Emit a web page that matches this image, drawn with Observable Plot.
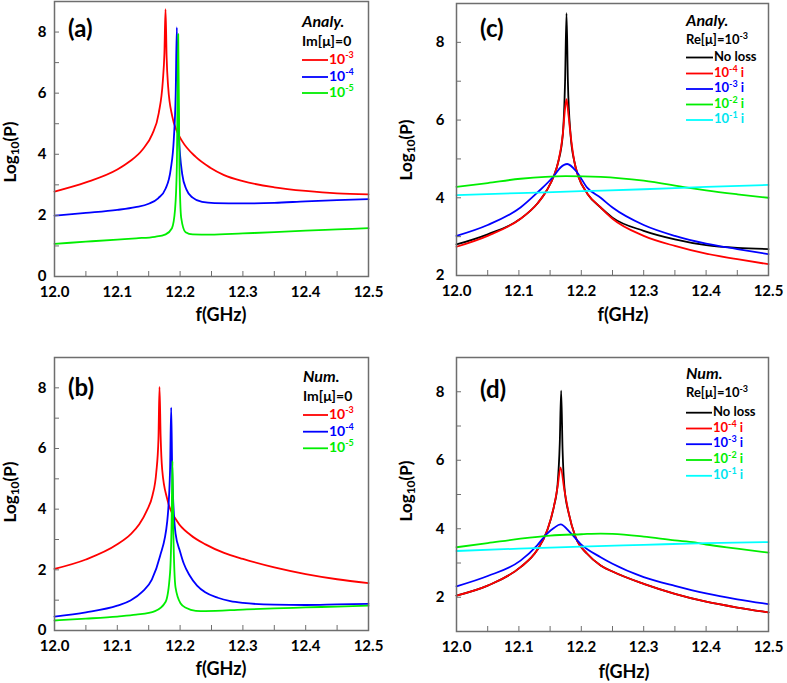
<!DOCTYPE html>
<html><head><meta charset="utf-8">
<script src="https://cdn.jsdelivr.net/npm/d3@7"></script>
<script src="https://cdn.jsdelivr.net/npm/@observablehq/plot@0.6"></script>
<style>
body{margin:0;background:#fff;}
#wrap{position:relative;width:787px;height:683px;overflow:hidden;background:#fff;}
#wrap svg{position:absolute;}
</style></head><body><div id="wrap"></div>
<script>
// ---- ticks ----
const xTicks = [12.0, 12.1, 12.2, 12.3, 12.4, 12.5];
const xMinor = [12.05, 12.15, 12.25, 12.35, 12.45];

// ---- panel (a): Analytical, Im[mu]=0 ----
const aRed = [[12.00,2.78],[12.05,3.08],[12.10,3.50],[12.12,3.77],[12.14,4.15],[12.1555,4.65],[12.166,5.35],[12.1725,6.4],[12.175,7.3],[12.1768,8.75],[12.1785,7.2],[12.181,6.2],[12.1874,5.25],[12.195,4.75],[12.203,4.44],[12.2245,3.92],[12.248,3.56],[12.27,3.32],[12.30,3.12],[12.35,2.92],[12.40,2.80],[12.45,2.72],[12.50,2.69]];
const aBlue = [[12.00,1.99],[12.05,2.08],[12.10,2.18],[12.129,2.27],[12.15,2.38],[12.165,2.56],[12.177,2.88],[12.185,3.5],[12.19,4.5],[12.193,6.0],[12.1948,8.15],[12.1965,6.0],[12.198,4.66],[12.2033,3.36],[12.21,2.85],[12.22,2.58],[12.235,2.44],[12.255,2.40],[12.30,2.39],[12.35,2.41],[12.40,2.46],[12.45,2.50],[12.50,2.53]];
const aGreen = [[12.00,1.07],[12.05,1.14],[12.10,1.21],[12.13,1.25],[12.16,1.30],[12.177,1.38],[12.187,1.58],[12.192,2.2],[12.1948,3.6],[12.197,7.93],[12.199,3.5],[12.2017,1.93],[12.2087,1.45],[12.22,1.38],[12.248,1.37],[12.30,1.41],[12.35,1.45],[12.40,1.50],[12.45,1.54],[12.50,1.58]];

// ---- panel (b): Numerical, Im[mu]=0 ----
const bRed = [[12.00,2.03],[12.05,2.34],[12.10,2.84],[12.121,3.17],[12.135,3.5],[12.147,3.95],[12.156,4.45],[12.162,5.2],[12.1655,6.3],[12.1672,8.03],[12.169,6.4],[12.1715,5.3],[12.1795,4.33],[12.1953,3.60],[12.2166,3.15],[12.2404,2.84],[12.27,2.56],[12.30,2.36],[12.35,2.08],[12.40,1.86],[12.45,1.69],[12.50,1.56]];
const bBlue = [[12.00,0.46],[12.05,0.60],[12.10,0.82],[12.121,0.99],[12.14,1.28],[12.155,1.68],[12.168,2.45],[12.1795,3.6],[12.184,5.3],[12.1858,7.35],[12.1875,5.2],[12.1927,3.2],[12.20,2.6],[12.206,2.2],[12.215,1.82],[12.227,1.48],[12.24,1.26],[12.26,1.08],[12.28,0.97],[12.30,0.91],[12.35,0.85],[12.40,0.84],[12.45,0.86],[12.50,0.88]];
const bGreen = [[12.00,0.33],[12.05,0.39],[12.10,0.46],[12.13,0.52],[12.16,0.64],[12.177,0.95],[12.184,1.9],[12.1865,3.6],[12.1879,5.59],[12.1892,3.3],[12.1927,1.42],[12.2006,0.9],[12.21,0.74],[12.225,0.65],[12.24,0.64],[12.30,0.69],[12.35,0.73],[12.40,0.76],[12.45,0.79],[12.50,0.82]];

// ---- panel (c): Analytical, Re[mu]=1e-3 ----
const cBlack = [[12.00,2.80],[12.05,3.06],[12.1026,3.46],[12.13,3.86],[12.145,4.2],[12.156,4.56],[12.163,4.92],[12.1704,5.64],[12.174,7.0],[12.1763,8.75],[12.1785,7.0],[12.1827,5.64],[12.189,4.92],[12.195,4.56],[12.21,4.1],[12.231,3.75],[12.25,3.49],[12.30,3.15],[12.35,2.93],[12.40,2.78],[12.45,2.71],[12.50,2.68]];
const cRed = [[12.00,2.74],[12.05,3.02],[12.1026,3.46],[12.13,3.86],[12.145,4.2],[12.156,4.56],[12.163,4.92],[12.1704,5.64],[12.174,6.3],[12.1763,6.54],[12.179,6.2],[12.1827,5.64],[12.189,4.92],[12.195,4.56],[12.21,4.1],[12.231,3.75],[12.25,3.46],[12.30,3.02],[12.35,2.76],[12.40,2.56],[12.45,2.42],[12.50,2.29]];
const cBlue = [[12.00,3.02],[12.05,3.30],[12.1026,3.75],[12.1293,4.13],[12.156,4.56],[12.1667,4.78],[12.1774,4.87],[12.1934,4.65],[12.2094,4.26],[12.231,4.00],[12.25,3.75],[12.30,3.30],[12.35,3.02],[12.40,2.82],[12.45,2.68],[12.50,2.55]];
const cGreen = [[12.00,4.28],[12.05,4.38],[12.1026,4.49],[12.175,4.56],[12.231,4.54],[12.30,4.44],[12.37,4.26],[12.40,4.19],[12.45,4.09],[12.50,4.00]];
const cCyan = [[12.00,4.07],[12.10,4.12],[12.20,4.17],[12.30,4.22],[12.40,4.28],[12.50,4.33]];

// ---- panel (d): Numerical, Re[mu]=1e-3 ----
const dBlack = [[12.00,2.05],[12.05,2.34],[12.1026,2.88],[12.129,3.37],[12.1453,3.95],[12.156,4.64],[12.162,5.3],[12.1655,6.5],[12.1677,8.03],[12.17,6.3],[12.173,5.2],[12.18,4.44],[12.1907,3.76],[12.2094,3.27],[12.231,2.93],[12.25,2.75],[12.30,2.39],[12.35,2.10],[12.40,1.87],[12.45,1.70],[12.50,1.56]];
const dRed = [[12.00,2.05],[12.05,2.34],[12.1026,2.88],[12.129,3.37],[12.1453,3.95],[12.156,4.64],[12.162,5.22],[12.1667,5.79],[12.173,5.12],[12.18,4.44],[12.1907,3.76],[12.2094,3.27],[12.231,2.93],[12.25,2.75],[12.30,2.39],[12.35,2.10],[12.40,1.87],[12.45,1.70],[12.50,1.56]];
const dBlue = [[12.00,2.32],[12.05,2.62],[12.1026,3.07],[12.129,3.51],[12.1453,3.86],[12.156,4.02],[12.1667,4.13],[12.1827,3.88],[12.1987,3.56],[12.231,3.17],[12.25,2.98],[12.30,2.59],[12.35,2.33],[12.40,2.11],[12.45,1.94],[12.50,1.80]];
const dGreen = [[12.00,3.46],[12.05,3.58],[12.1026,3.71],[12.15,3.80],[12.20,3.84],[12.231,3.86],[12.25,3.85],[12.30,3.77],[12.35,3.66],[12.382,3.60],[12.40,3.54],[12.45,3.42],[12.50,3.30]];
const dCyan = [[12.00,3.35],[12.10,3.42],[12.20,3.48],[12.30,3.53],[12.40,3.58],[12.50,3.61]];

// legend labels
const legImTitle = "Im[μ]=0";
const legImExp = ["-3", "-4", "-5"];
const legReExp = [null, "-4", "-3", "-2", "-1"];

const FONT = "Lato, 'Open Sans', sans-serif";
const GRAY = "#6e6e6e";

function panel(cfg) {
  const marks = [];
  for (const s of cfg.series) {
    marks.push(Plot.line(s.data, {x: d => d[0], y: d => d[1], stroke: s.color, strokeWidth: 1.8, curve: "monotone-x"}));
  }
  marks.push(
    Plot.axisX({ticks: xMinor, tickSize: -5, tickFormat: () => "", stroke: GRAY, label: null}),
    Plot.axisX({ticks: xTicks, tickSize: -5, tickPadding: 15, tickFormat: d => d.toFixed(1), stroke: GRAY, label: null, fontSize: 15, fontWeight: "bold"}),
    Plot.axisY({ticks: cfg.yMinor, tickSize: -5, tickFormat: () => "", stroke: GRAY, label: null}),
    Plot.axisY({ticks: cfg.yMajor, tickSize: -5, tickPadding: cfg.yPad, tickFormat: d => String(d), stroke: GRAY, label: null, fontSize: 15, fontWeight: "bold"}),
    Plot.frame({stroke: GRAY, strokeWidth: 1.5})
  );
  const svg = Plot.plot({
    width: cfg.width, height: cfg.height,
    marginTop: cfg.m[0], marginRight: cfg.m[1], marginBottom: cfg.m[2], marginLeft: cfg.m[3],
    x: {domain: [12.0, 12.5]},
    y: {domain: cfg.yDomain},
    style: {fontFamily: FONT, fontWeight: "bold", color: "#000", background: "transparent", overflow: "visible"},
    marks
  });
  svg.style.left = cfg.left + "px";
  svg.style.top = cfg.top + "px";
  const g = d3.select(svg).append("g").attr("font-family", FONT).attr("font-weight", "bold")
    .attr("text-anchor", "start");

  // panel letter
  g.append("text").attr("x", cfg.tag[0]).attr("y", cfg.tag[1]).attr("font-size", 24)
    .attr("dominant-baseline", "middle").text(cfg.tag[2]);

  // y label Log10(P)
  const yl = g.append("text").attr("transform", `translate(${cfg.ylab[0]},${cfg.ylab[1]}) rotate(-90)`)
    .attr("text-anchor", "middle").attr("dominant-baseline", "middle").attr("font-size", 17);
  yl.append("tspan").text("Log");
  yl.append("tspan").attr("font-size", 12).attr("dy", 4).text("10");
  yl.append("tspan").attr("dy", -4).text("(P)");

  // x label
  g.append("text").attr("x", cfg.xlab[0]).attr("y", cfg.xlab[1]).attr("text-anchor", "middle")
    .attr("dominant-baseline", "middle").attr("font-size", 18).text("f(GHz)");

  // legend
  const L = cfg.legend;
  const fs = L.fs;
  g.append("text").attr("x", L.x).attr("y", L.titleY).attr("font-size", 16).attr("font-style", "italic")
    .attr("dominant-baseline", "middle").text(L.title);
  const sub = g.append("text").attr("x", L.x).attr("y", L.subY).attr("font-size", fs)
    .attr("dominant-baseline", "middle");
  if (L.sub2) {
    sub.append("tspan").text(L.sub);
    sub.append("tspan").attr("font-size", 9).attr("dy", -4).text(L.sub2);
  } else sub.text(L.sub);
  L.rows.forEach((r, i) => {
    const y = L.rowY[i];
    g.append("line").attr("x1", L.x).attr("x2", L.x + L.len).attr("y1", y).attr("y2", y)
      .attr("stroke", r.color).attr("stroke-width", 1.8);
    const t = g.append("text").attr("x", L.x + L.len + 1).attr("y", y).attr("font-size", fs)
      .attr("dominant-baseline", "middle").attr("fill", r.color === "#00ffff" ? "#00e5f0" : r.color);
    if (r.exp == null) { t.attr("fill", "#000").text("No loss"); }
    else {
      t.append("tspan").text("10");
      t.append("tspan").attr("font-size", 9).attr("dy", -4).text(r.exp);
      t.append("tspan").attr("dy", 4).text(r.suffix || "");
    }
  });
  document.getElementById("wrap").appendChild(svg);
}

const RED = "#ff0000", BLUE = "#0000ff", GREEN = "#00ee00", CYAN = "#00ffff", BLACK = "#000000";

panel({
  left: 0, top: 0, width: 393, height: 340, m: [1, 25, 64, 54],
  yDomain: [0, 9], yMajor: [0, 2, 4, 6, 8], yMinor: [1, 3, 5, 7], yPad: 13,
  series: [{data: aRed, color: RED}, {data: aBlue, color: BLUE}, {data: aGreen, color: GREEN}],
  tag: [68, 31, "(a)"], ylab: [12, 152], xlab: [221, 316],
  legend: {x: 302, fs: 14, title: "Analy.", titleY: 23, sub: legImTitle, subY: 42, len: 26,
    rowY: [60, 77, 93],
    rows: [{color: RED, exp: legImExp[0]}, {color: BLUE, exp: legImExp[1]}, {color: GREEN, exp: legImExp[2]}]}
});

panel({
  left: 393, top: 0, width: 394, height: 340, m: [3, 19, 65, 63],
  yDomain: [2, 9], yMajor: [2, 4, 6, 8], yMinor: [3, 5, 7], yPad: 17,
  series: [{data: cBlack, color: BLACK}, {data: cRed, color: RED}, {data: cBlue, color: BLUE}, {data: cGreen, color: GREEN}, {data: cCyan, color: CYAN}],
  tag: [87, 31, "(c)"], ylab: [15, 150], xlab: [230, 316],
  legend: {x: 293, fs: 13, title: "Analy.", titleY: 22, sub: "Re[μ]=10", sub2: "-3", subY: 41, len: 27,
    rowY: [57.5, 73.5, 89, 104.5, 120],
    rows: [{color: BLACK, exp: legReExp[0]}, {color: RED, exp: legReExp[1], suffix: " i"}, {color: BLUE, exp: legReExp[2], suffix: " i"}, {color: GREEN, exp: legReExp[3], suffix: " i"}, {color: CYAN, exp: legReExp[4], suffix: " i"}]}
});

panel({
  left: 0, top: 340, width: 393, height: 343, m: [17, 25, 53, 54],
  yDomain: [0, 9], yMajor: [0, 2, 4, 6, 8], yMinor: [1, 3, 5, 7], yPad: 13,
  series: [{data: bRed, color: RED}, {data: bBlue, color: BLUE}, {data: bGreen, color: GREEN}],
  tag: [68, 50, "(b)"], ylab: [12, 152], xlab: [221, 330],
  legend: {x: 303, fs: 14, title: "Num.", titleY: 38, sub: legImTitle, subY: 57, len: 25,
    rowY: [75, 91.7, 108.3],
    rows: [{color: RED, exp: legImExp[0]}, {color: BLUE, exp: legImExp[1]}, {color: GREEN, exp: legImExp[2]}]}
});

panel({
  left: 393, top: 340, width: 394, height: 343, m: [17, 19, 52, 63],
  yDomain: [1, 9], yMajor: [2, 4, 6, 8], yMinor: [1, 3, 5, 7], yPad: 17,
  series: [{data: dBlack, color: BLACK}, {data: dRed, color: RED}, {data: dBlue, color: BLUE}, {data: dGreen, color: GREEN}, {data: dCyan, color: CYAN}],
  tag: [87, 52, "(d)"], ylab: [15, 151], xlab: [231, 333],
  legend: {x: 293, fs: 13, title: "Num.", titleY: 35, sub: "Re[μ]=10", sub2: "-3", subY: 54, len: 26,
    rowY: [72.7, 88.5, 104.2, 120, 135.8],
    rows: [{color: BLACK, exp: legReExp[0]}, {color: RED, exp: legReExp[1], suffix: " i"}, {color: BLUE, exp: legReExp[2], suffix: " i"}, {color: GREEN, exp: legReExp[3], suffix: " i"}, {color: CYAN, exp: legReExp[4], suffix: " i"}]}
});
</script></body></html>
